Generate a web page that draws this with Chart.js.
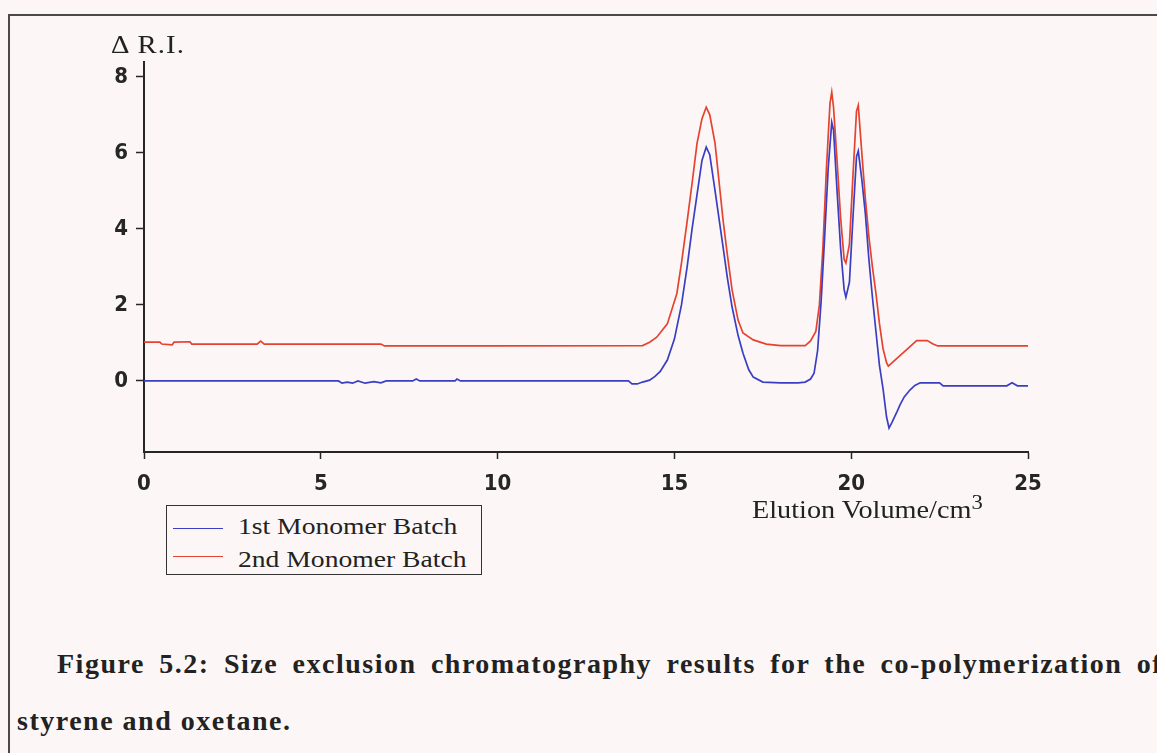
<!DOCTYPE html>
<html>
<head>
<meta charset="utf-8">
<script src="https://cdn.jsdelivr.net/npm/chart.js@4/dist/chart.umd.min.js"></script>
<style>
  html, body { margin: 0; padding: 0; width: 1157px; height: 753px; overflow: hidden; background: #fcf7f6; }
  #frame { position: absolute; left: 8px; top: 14px; width: 1300px; height: 900px;
           border-left: 2px solid #4a4a4a; border-top: 2px solid #4a4a4a; }
  #wrap { position: absolute; left: 0; top: 0; width: 1157px; height: 500px; }
  .serif { position: absolute; font-family: 'Liberation Serif', 'Times New Roman', serif; color: #222;
           line-height: 1; white-space: nowrap; transform-origin: 0 0; }
  #ylab { left: 111px; top: 32px; font-size: 25px; letter-spacing: 1px; transform: scaleX(1.15); }
  #xlab { left: 752px; top: 497px; font-size: 25px; transform: scaleX(1.13); }
  #xlab sup { font-size: 20px; vertical-align: 9px; line-height: 0; }
  #legend { position: absolute; left: 166px; top: 505px; width: 314px; height: 68px;
            border: 1.5px solid #333; }
  .legline { position: absolute; left: 6px; width: 50px; height: 0; border-top: 1.5px solid; }
  .legtext { font-size: 24px; left: 71px; transform: scaleX(1.15); }
  .caption { position: absolute; font-family: 'Liberation Serif', 'Times New Roman', serif; font-weight: bold;
             font-size: 28px; line-height: 1; color: #222; letter-spacing: 1.5px; white-space: nowrap; }
  #cap1 { left: 57px; top: 650px; width: 1106px; text-align: justify; text-align-last: justify; }
  #cap2 { left: 17px; top: 707px; }
</style>
</head>
<body>
<div id="frame"></div>
<div id="wrap"><canvas id="c" width="1157" height="500"></canvas></div>
<div id="ylab" class="serif">Δ R.I.</div>
<div id="xlab" class="serif">Elution Volume/cm<sup>3</sup></div>
<div id="legend"></div>
<div id="cap1" class="caption">Figure 5.2: Size exclusion chromatography results for the co-polymerization of</div>
<div id="cap2" class="caption">styrene and oxetane.</div>
<script>
// Series labels and colours
const seriesNames = ['1st Monomer Batch', '2nd Monomer Batch'];
const seriesColors = ['#3a3ec2', '#e5432f'];

// Axis ticks
const xTicks = [0, 5, 10, 15, 20, 25];
const yTicks = [0, 2, 4, 6, 8];

// 1st monomer batch: elution volume (cm3) and refractive index response
const batch1Volume = [0, 2.0, 4.0, 5.5, 5.6, 5.75, 5.9, 6.05, 6.25, 6.5, 6.7, 6.85, 7.6, 7.7, 7.8, 8.8, 8.85, 8.95,
  10, 12, 13.7, 13.8, 13.95, 14.1, 14.3, 14.45, 14.6, 14.8, 15.0, 15.2, 15.36, 15.5, 15.64, 15.78, 15.9, 16.0,
  16.15, 16.38, 16.5, 16.63, 16.8, 16.94, 17.1, 17.23, 17.5, 18.0, 18.5, 18.7, 18.85, 18.95, 19.05, 19.15, 19.25,
  19.35, 19.45, 19.5, 19.6, 19.7, 19.8, 19.85, 19.95, 20.05, 20.15, 20.2, 20.3, 20.4, 20.5, 20.6, 20.7, 20.8,
  20.9, 21.0, 21.07, 21.15, 21.3, 21.38, 21.5, 21.66, 21.8, 21.95, 22.5, 22.6, 24.4, 24.55, 24.7, 25.0];
const batch1Signal = [0, 0, 0, 0, -0.06, -0.03, -0.06, 0, -0.06, -0.02, -0.05, 0, 0, 0.05, 0, 0, 0.05, 0,
  0, 0, 0, -0.08, -0.08, -0.03, 0.02, 0.12, 0.25, 0.55, 1.1, 2.0, 3.0, 4.0, 4.9, 5.8, 6.15, 5.95,
  5.0, 3.5, 2.7, 1.95, 1.2, 0.73, 0.3, 0.1, -0.03, -0.05, -0.05, -0.03, 0.05, 0.2, 0.8, 2.1, 3.8,
  5.6, 6.8, 6.6, 5.0, 3.5, 2.4, 2.2, 2.6, 4.3, 5.9, 6.05, 5.3, 4.4, 3.2, 2.2, 1.3, 0.4,
  -0.2, -0.95, -1.24, -1.1, -0.8, -0.63, -0.42, -0.24, -0.12, -0.05, -0.05, -0.13, -0.13, -0.05, -0.13, -0.13];

// 2nd monomer batch: elution volume (cm3) and refractive index response
const batch2Volume = [0, 0.45, 0.5, 0.8, 0.85, 1.3, 1.35, 3.2, 3.3, 3.4, 6.7, 6.8, 10, 14.1, 14.3, 14.5, 14.8,
  15.07, 15.2, 15.36, 15.5, 15.64, 15.78, 15.9, 16.0, 16.15, 16.38, 16.5, 16.63, 16.8, 16.94, 17.23, 17.6, 18.0,
  18.7, 18.85, 19.0, 19.1, 19.2, 19.3, 19.4, 19.45, 19.5, 19.6, 19.7, 19.8, 19.85, 19.95, 20.05, 20.15, 20.2,
  20.3, 20.4, 20.5, 20.6, 20.7, 20.8, 20.9, 21.0, 21.05, 21.3, 21.6, 21.85, 22.15, 22.3, 22.45, 25.0];
const batch2Signal = [1.02, 1.02, 0.97, 0.95, 1.02, 1.03, 0.97, 0.97, 1.05, 0.97, 0.97, 0.92, 0.92, 0.93, 1.02, 1.15, 1.5,
  2.3, 3.1, 4.2, 5.2, 6.25, 6.9, 7.2, 7.0, 6.25, 4.2, 3.3, 2.4, 1.6, 1.26, 1.08, 0.97, 0.93,
  0.93, 1.05, 1.3, 2.0, 3.5, 5.6, 7.3, 7.6, 7.2, 5.8, 4.3, 3.2, 3.1, 3.6, 5.4, 7.1, 7.25,
  6.0, 4.8, 3.8, 3.0, 2.3, 1.5, 0.85, 0.48, 0.39, 0.6, 0.85, 1.06, 1.06, 0.98, 0.92, 0.92];

const toPoints = (xs, ys) => xs.map((x, i) => ({ x: x, y: ys[i] }));

const tickFont = { family: "'DejaVu Sans Condensed', 'Liberation Sans Narrow', 'DejaVu Sans', sans-serif", size: 22, weight: 'bold' };
const axisColor = '#262626';

const chart = new Chart(document.getElementById('c'), {
  type: 'line',
  data: {
    datasets: [
      { label: seriesNames[0], data: toPoints(batch1Volume, batch1Signal), borderColor: seriesColors[0] },
      { label: seriesNames[1], data: toPoints(batch2Volume, batch2Signal), borderColor: seriesColors[1] }
    ]
  },
  options: {
    responsive: false,
    animation: false,
    devicePixelRatio: 1,
    layout: { padding: { top: 62, right: 129, bottom: 0, left: 0 } },
    elements: { line: { borderWidth: 1.7, tension: 0 }, point: { radius: 0 } },
    plugins: { legend: { display: false }, tooltip: { enabled: false } },
    scales: {
      x: {
        type: 'linear', min: 0, max: 25,
        afterBuildTicks: s => { s.ticks = xTicks.map(v => ({ value: v })); },
        afterFit: s => { s.height = 48; },
        grid: { drawOnChartArea: false, drawTicks: true, tickLength: 7, tickColor: axisColor, tickWidth: 1.5 },
        border: { display: true, color: axisColor, width: 2 },
        ticks: { font: tickFont, color: axisColor, padding: 12, maxRotation: 0, autoSkip: false }
      },
      y: {
        type: 'linear', min: -1.87, max: 8.39,
        afterBuildTicks: s => { s.ticks = yTicks.map(v => ({ value: v })); },
        afterFit: s => { s.width = 144; },
        grid: { drawOnChartArea: false, drawTicks: true, tickLength: 8, tickColor: axisColor, tickWidth: 1.5 },
        border: { display: true, color: axisColor, width: 2 },
        ticks: { font: tickFont, color: axisColor, padding: 8, autoSkip: false }
      }
    }
  }
});

// Legend box built from the chart's datasets
const legend = document.getElementById('legend');
chart.data.datasets.forEach((ds, i) => {
  const line = document.createElement('div');
  line.className = 'legline';
  line.style.borderTopColor = ds.borderColor;
  line.style.top = (22 + i * 28) + 'px';
  legend.appendChild(line);
  const txt = document.createElement('div');
  txt.className = 'serif legtext';
  txt.style.top = (8 + i * 33) + 'px';
  txt.textContent = ds.label;
  legend.appendChild(txt);
});
</script>
</body>
</html>
